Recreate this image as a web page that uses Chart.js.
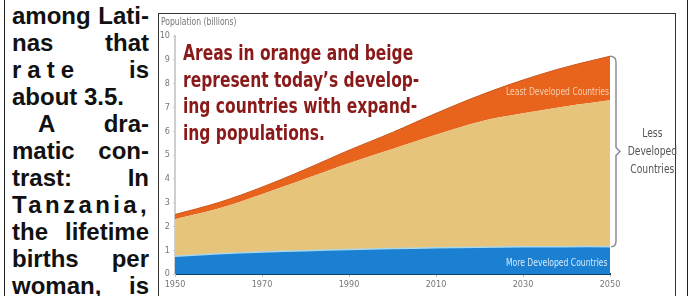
<!DOCTYPE html>
<html lang="en">
<head>
  <meta charset="UTF-8">
  <title>World Population Growth</title>
  <style>
    body {
      margin: 0;
      width: 697px;
      height: 296px;
      overflow: hidden;
      background: #fff;
      position: relative;
      font-family: "Liberation Sans", Arial, sans-serif;
    }
    .rule {
      position: absolute;
      top: 0;
      width: 0;
      height: 296px;
      border-left: 1.5px solid #222;
    }
    #column {
      position: absolute;
      left: 12px;
      top: 2px;
      width: 137px;
      font-weight: bold;
      font-size: 24px;
      line-height: 27px;
      color: #111;
    }
    #column div {
      display: flex;
      justify-content: space-between;
      white-space: nowrap;
    }
    #box {
      position: absolute;
      left: 158px;
      top: 13px;
      width: 516px;
      height: 300px;
      border: 1.5px solid #333;
      overflow: hidden;
    }
    canvas {
      position: absolute;
      left: 150px;
      top: 0;
    }
    .small {
      position: absolute;
      font-family: "DejaVu Sans Condensed", sans-serif;
      white-space: nowrap;
      transform-origin: 0 0;
      transform: scaleX(0.85);
    }
    #ytitle {
      left: 161px;
      top: 16px;
      font-size: 10px;
      color: #777;
    }
    #note {
      position: absolute;
      left: 183px;
      top: 40px;
      font-family: "DejaVu Sans Condensed", sans-serif;
      font-weight: bold;
      font-size: 21px;
      line-height: 26.7px;
      color: #8a1a1a;
      white-space: nowrap;
      transform-origin: 0 0;
      transform: scaleX(0.82);
    }
    #less {
      left: 626px;
      top: 124px;
      width: 62px;
      text-align: center;
      font-size: 12px;
      line-height: 18px;
      color: #555;
    }
    #least {
      left: 506px;
      top: 86px;
      font-size: 10px;
      color: #f7cfae;
    }
    #more {
      left: 506px;
      top: 257px;
      font-size: 10px;
      color: #d6ebfa;
    }
  </style>
</head>
<body>
  <div class="rule" style="left:4px"></div>
  <div class="rule" style="left:687px"></div>

  <div id="column">
    <div><span>among</span><span>Lati-</span></div>
    <div><span>nas</span><span>that</span></div>
    <div style="letter-spacing:6px"><span>rate</span><span style="letter-spacing:0">is</span></div>
    <div style="justify-content:flex-start"><span>about 3.5.</span></div>
    <div style="padding-left:26px"><span>A</span><span>dra-</span></div>
    <div><span>matic</span><span>con-</span></div>
    <div><span>trast:</span><span>In</span></div>
    <div style="letter-spacing:3.4px"><span>Tanzania,</span></div>
    <div><span>the</span><span>lifetime</span></div>
    <div><span>births</span><span>per</span></div>
    <div><span>woman,</span><span>is</span></div>
  </div>

  <div id="box"></div>
  <canvas id="chart" width="547" height="296"></canvas>

  <div class="small" id="ytitle">Population (billions)</div>
  <div id="note">Areas in orange and beige<br>represent today’s develop-<br>ing countries with expand-<br>ing populations.</div>
  <div class="small" id="least">Least Developed Countries</div>
  <div class="small" id="more">More Developed Countries</div>
  <div class="small" id="less">Less<br>Developed<br>Countries</div>

  <script src="https://cdn.jsdelivr.net/npm/chart.js@4"></script>
  <script>
    // billions
    const years = [1950, 1960, 1970, 1980, 1990, 2000, 2010, 2020, 2030, 2040, 2050];
    const moreDeveloped = [0.75, 0.85, 0.92, 0.98, 1.03, 1.07, 1.10, 1.12, 1.14, 1.15, 1.15];
    const lessDeveloped = [1.55, 1.90, 2.43, 3.02, 3.62, 4.18, 4.75, 5.28, 5.61, 5.90, 6.15];
    const leastDeveloped = [0.20, 0.25, 0.30, 0.40, 0.55, 0.70, 0.90, 1.10, 1.40, 1.65, 1.85];
    const yearTicks = [1950, 1970, 1990, 2010, 2030, 2050];
    const popTicks = [0, 1, 2, 3, 4, 5, 6, 7, 8, 9, 10];

    const tickFont = { family: '"DejaVu Sans Condensed", sans-serif', size: 9 };

    function pts(vals) {
      return years.map((y, i) => ({ x: y, y: vals[i] }));
    }

    // curly bracket next to the last year, spanning the developing countries
    const bracePlugin = {
      id: 'brace',
      afterDatasetsDraw(chart) {
        const xs = chart.scales.x, ys = chart.scales.y;
        const n = years.length - 1;
        const x0 = xs.getPixelForValue(years[n]);
        const top = ys.getPixelForValue(moreDeveloped[n] + lessDeveloped[n] + leastDeveloped[n]);
        const bot = ys.getPixelForValue(moreDeveloped[n]);
        const mid = (top + bot) / 2;
        const bx = x0 + 6;
        const ctx = chart.ctx;
        ctx.save();
        ctx.strokeStyle = '#8c8c96';
        ctx.lineWidth = 1.5;
        ctx.beginPath();
        ctx.moveTo(x0, top);
        ctx.quadraticCurveTo(bx, top, bx, top + 6);
        ctx.lineTo(bx, mid - 4);
        ctx.lineTo(bx + 4, mid);
        ctx.lineTo(bx, mid + 4);
        ctx.lineTo(bx, bot - 6);
        ctx.quadraticCurveTo(bx, bot, x0 + 1, bot);
        ctx.stroke();
        ctx.restore();
      }
    };

    new Chart(document.getElementById('chart'), {
      type: 'line',
      data: {
        datasets: [
          {
            label: 'More Developed Countries',
            data: pts(moreDeveloped),
            backgroundColor: '#1b7fd2',
            borderColor: '#a9d8ec',
            borderWidth: 1.5,
            fill: 'origin'
          },
          {
            label: 'Less Developed Countries',
            data: pts(lessDeveloped),
            backgroundColor: '#e7c47c',
            borderColor: '#e7c47c',
            borderWidth: 0,
            fill: '-1'
          },
          {
            label: 'Least Developed Countries',
            data: pts(leastDeveloped),
            backgroundColor: '#e8641c',
            borderColor: '#c9561a',
            borderWidth: 1,
            fill: '-1'
          }
        ]
      },
      options: {
        responsive: false,
        animation: false,
        layout: { padding: { top: 36, right: 87, left: 0, bottom: 0 } },
        elements: {
          point: { radius: 0 },
          line: { tension: 0.35 }
        },
        plugins: {
          legend: { display: false },
          tooltip: { enabled: false }
        },
        scales: {
          x: {
            type: 'linear',
            min: years[0],
            max: years[years.length - 1],
            afterBuildTicks(scale) {
              scale.ticks = yearTicks.map(v => ({ value: v }));
            },
            afterFit(scale) { scale.height = 22; },
            grid: { display: true, drawOnChartArea: false, tickLength: 3, color: '#bbb' },
            border: { display: true, color: '#0e3f6e', width: 2 },
            ticks: { color: '#777', font: tickFont, padding: 2, maxRotation: 0, callback: v => String(v) }
          },
          y: {
            stacked: true,
            min: 0,
            max: 10,
            afterBuildTicks(scale) {
              scale.ticks = popTicks.map(v => ({ value: v }));
            },
            afterFit(scale) { scale.width = 25; },
            grid: { display: true, drawOnChartArea: false, tickLength: 2, color: '#ccc' },
            border: { display: true, color: '#cfcfcf', width: 2 },
            ticks: { color: '#777', font: tickFont, padding: 3 }
          }
        }
      },
      plugins: [bracePlugin]
    });
  </script>
</body>
</html>
